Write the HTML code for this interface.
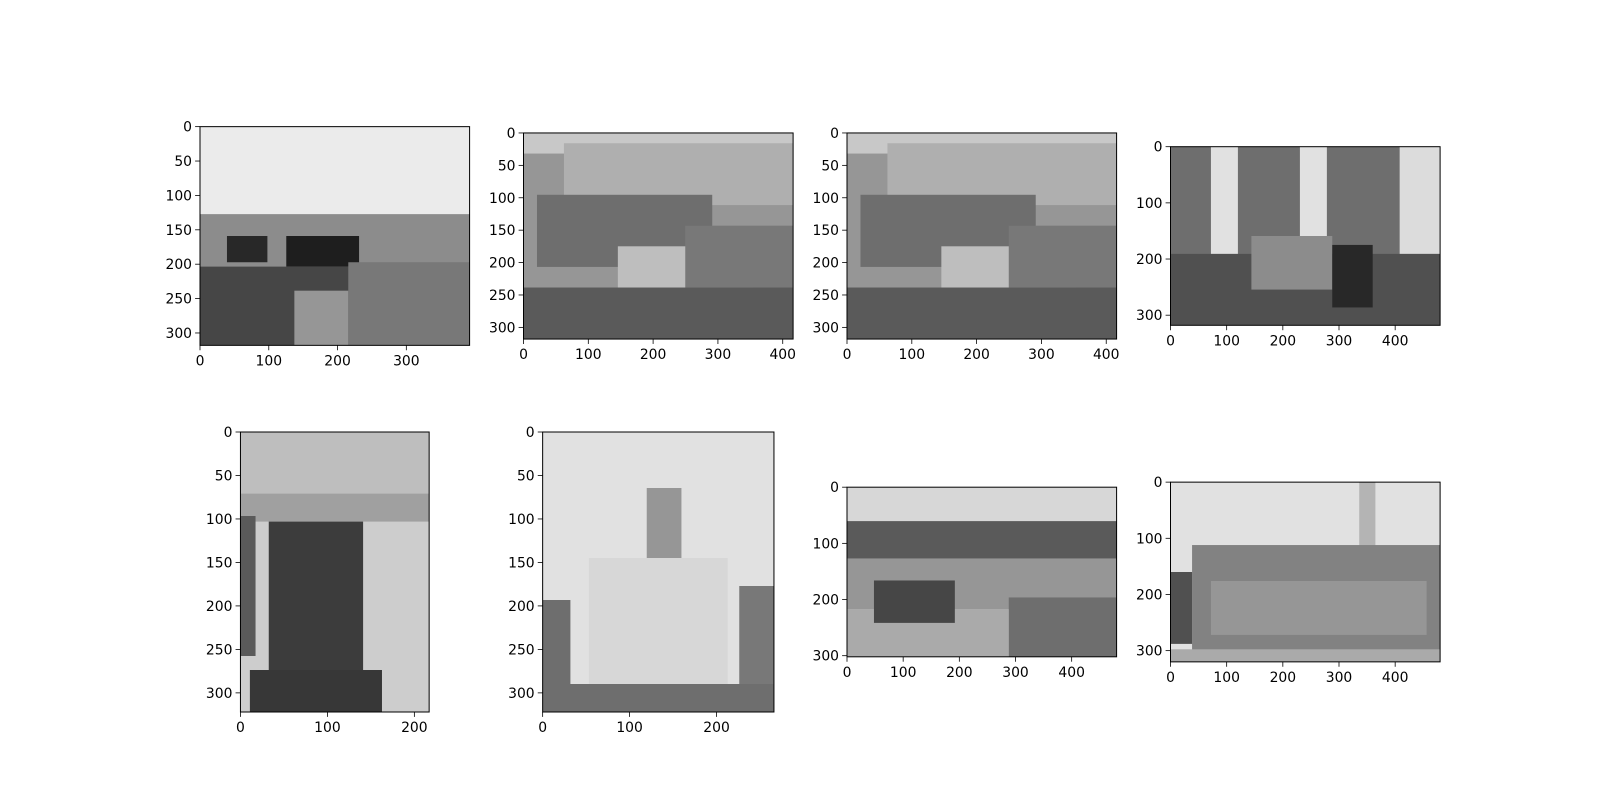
<!DOCTYPE html>
<html><head><meta charset="utf-8"><style>
html,body{margin:0;padding:0;background:#fff;}
svg text{font-family:"DejaVu Sans","Liberation Sans",sans-serif;font-size:13.9px;fill:#000;}
</style></head><body>
<svg id="fig" width="1600" height="800" viewBox="0 0 1600 800" xmlns="http://www.w3.org/2000/svg"></svg>
<script>
// image dimensions (data units = pixels of each source image)
const imgWidths  = [392, 416, 416, 480, 217, 266, 480, 480];
const imgHeights = [318, 318, 318, 318, 322, 322, 302, 320];
const yTickStep  = [50, 50, 50, 100, 50, 50, 100, 100];
const xTickStep  = [100, 100, 100, 100, 100, 100, 100, 100];
const panelNames = ['bridge-photo','building-photo-a','building-photo-b','interior-photo','statue-photo','church-photo','river-photo','station-photo'];
// rough tonal regions per image: [x0,y0,w,h,gray] in fractions
const scenes = [
 [[0,0,1,1,235],[0,0.4,1,0.25,140],[0.1,0.5,0.15,0.12,40],[0.32,0.5,0.27,0.14,30],[0,0.64,1,0.36,70],[0.55,0.62,0.45,0.38,120],[0.35,0.75,0.2,0.25,150]],
 [[0,0,1,1,150],[0,0,1,0.1,200],[0.15,0.05,0.85,0.3,175],[0.05,0.3,0.65,0.35,110],[0.35,0.55,0.5,0.3,190],[0,0.75,1,0.25,90],[0.6,0.45,0.4,0.3,120]],
 [[0,0,1,1,150],[0,0,1,0.1,200],[0.15,0.05,0.85,0.3,175],[0.05,0.3,0.65,0.35,110],[0.35,0.55,0.5,0.3,190],[0,0.75,1,0.25,90],[0.6,0.45,0.4,0.3,120]],
 [[0,0,1,1,110],[0.15,0,0.1,0.65,225],[0.48,0,0.1,0.6,225],[0.85,0,0.15,0.8,220],[0,0.6,1,0.4,80],[0.3,0.5,0.3,0.3,140],[0.6,0.55,0.15,0.35,40]],
 [[0,0,1,1,205],[0,0,1,0.22,190],[0,0.22,1,0.1,160],[0,0.3,0.08,0.5,90],[0.15,0.32,0.5,0.55,60],[0.05,0.85,0.7,0.15,55]],
 [[0,0,1,1,225],[0.45,0.2,0.15,0.4,150],[0.2,0.45,0.6,0.45,215],[0,0.6,0.12,0.35,110],[0.85,0.55,0.15,0.4,120],[0,0.9,1,0.1,110]],
 [[0,0,1,1,215],[0,0.2,1,0.25,90],[0,0.42,1,0.3,150],[0,0.72,0.6,0.28,170],[0.6,0.65,0.4,0.35,110],[0.1,0.55,0.3,0.25,70]],
 [[0,0,1,1,225],[0.7,0,0.06,0.4,180],[0.08,0.35,0.92,0.6,130],[0.15,0.55,0.8,0.3,150],[0,0.5,0.08,0.4,80],[0,0.93,1,0.07,170]]
];
const svg=document.getElementById('fig');
const NS='http://www.w3.org/2000/svg';
function mk(t,a,p){const e=document.createElementNS(NS,t);for(const k in a)e.setAttribute(k,a[k]);(p||svg).appendChild(e);return e;}
const colW=269.6, rowH=280, gap=53.9;
const colX=[200,200+colW+gap,200+2*(colW+gap),200+3*(colW+gap)];
const rowY=[96,432];
for(let i=0;i<8;i++){
  const W=imgWidths[i],H=imgHeights[i];
  const cx=colX[i%4], cy=rowY[Math.floor(i/4)];
  const s=Math.min(colW/W,rowH/H);
  const w=W*s,h=H*s;
  const x0=cx+(colW-w)/2, y0=cy+(rowH-h)/2;
  const xs=v=>x0+v*s, ys=v=>y0+v*s;
  const g=mk('g',{});
  
  
  for(const r of scenes[i]){
    const c=r[4];
    mk('rect',{x:x0+r[0]*w,y:y0+r[1]*h,width:r[2]*w,height:r[3]*h,fill:`rgb(${c},${c},${c})`},g);
  }
  const fr=mk('rect',{x:x0,y:y0,width:w,height:h,fill:'none',stroke:'#000','stroke-width':1},g);
  
  
  const xa=mk('g',{},g);
  
  
  for(let v=0;v<=W;v+=xTickStep[i]){
    mk('line',{x1:xs(v),x2:xs(v),y1:y0+h,y2:y0+h+4.9,stroke:'#000','stroke-width':0.8},xa);
    const t=mk('text',{x:xs(v),y:y0+h+20,'text-anchor':'middle'},xa);t.textContent=v;
  }
  const ya=mk('g',{},g);
  
  
  for(let v=0;v<=H;v+=yTickStep[i]){
    mk('line',{x1:x0-4.9,x2:x0,y1:ys(v),y2:ys(v),stroke:'#000','stroke-width':0.8},ya);
    const t=mk('text',{x:x0-8,y:ys(v)+5,'text-anchor':'end'},ya);t.textContent=v;
  }
}
</script>
</body></html>
